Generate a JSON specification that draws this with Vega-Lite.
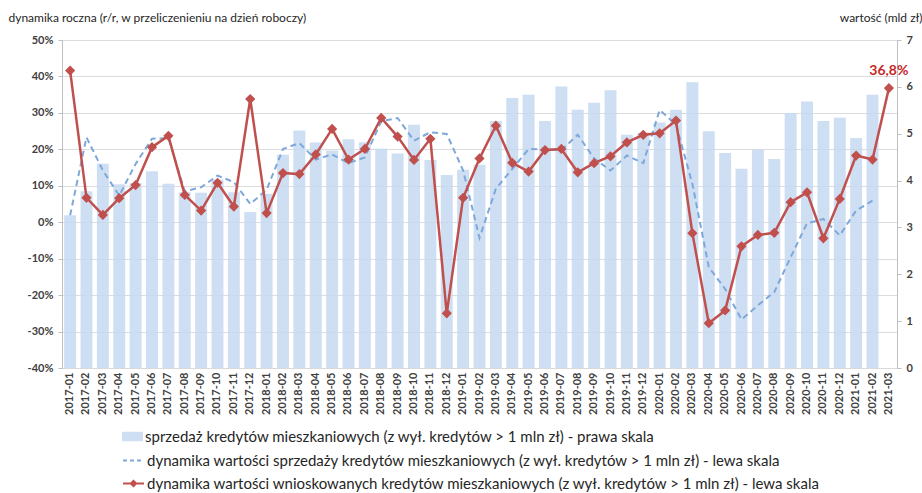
{
  "$schema": "https://vega.github.io/schema/vega-lite/v6.json",
  "width": 835,
  "height": 328,
  "autosize": {"type": "none"},
  "padding": {"left": 62, "top": 40, "right": 25, "bottom": 125},
  "background": "white",
  "config": {
    "view": {"stroke": null},
    "font": "Lato",
    "legend": {"labelFont": "Lato", "labelFontSize": 15, "labelColor": "#262626", "labelLimit": 1000, "padding": 0, "offset": 0, "labelOffset": 2},
    "axisLeft": {
      "values": [-40, -30, -20, -10, 0, 10, 20, 30, 40, 50],
      "labelOverlap": false,
      "gridColor": "#dcdcdc",
      "labelFont": "Lato",
      "labelFontSize": 11,
      "labelFontWeight": "bold",
      "labelColor": "#404040",
      "labelPadding": 5,
      "tickSize": 4,
      "tickColor": "#bfbfbf",
      "domainColor": "#bfbfbf"
    }
  },
  "data": {
    "values": [
      {"m": "2017-01", "sprzedaz": 3.26, "dyn_sprz": 1.9, "dyn_wn": 41.6},
      {"m": "2017-02", "sprzedaz": 3.77, "dyn_sprz": 23.3, "dyn_wn": 6.7},
      {"m": "2017-03", "sprzedaz": 4.36, "dyn_sprz": 14.2, "dyn_wn": 2.0},
      {"m": "2017-04", "sprzedaz": 3.92, "dyn_sprz": 7.3, "dyn_wn": 6.6},
      {"m": "2017-05", "sprzedaz": 3.95, "dyn_sprz": 16.0, "dyn_wn": 10.2},
      {"m": "2017-06", "sprzedaz": 4.20, "dyn_sprz": 22.9, "dyn_wn": 20.6},
      {"m": "2017-07", "sprzedaz": 3.93, "dyn_sprz": 23.1, "dyn_wn": 23.7},
      {"m": "2017-08", "sprzedaz": 3.75, "dyn_sprz": 8.5, "dyn_wn": 7.5},
      {"m": "2017-09", "sprzedaz": 3.74, "dyn_sprz": 9.6, "dyn_wn": 3.2},
      {"m": "2017-10", "sprzedaz": 4.02, "dyn_sprz": 12.8, "dyn_wn": 10.8},
      {"m": "2017-11", "sprzedaz": 3.75, "dyn_sprz": 11.0, "dyn_wn": 4.3},
      {"m": "2017-12", "sprzedaz": 3.33, "dyn_sprz": 5.0, "dyn_wn": 33.8},
      {"m": "2018-01", "sprzedaz": 3.72, "dyn_sprz": 8.9, "dyn_wn": 2.5},
      {"m": "2018-02", "sprzedaz": 4.55, "dyn_sprz": 20.1, "dyn_wn": 13.5},
      {"m": "2018-03", "sprzedaz": 5.07, "dyn_sprz": 21.7, "dyn_wn": 13.2},
      {"m": "2018-04", "sprzedaz": 4.81, "dyn_sprz": 17.2, "dyn_wn": 18.6},
      {"m": "2018-05", "sprzedaz": 4.64, "dyn_sprz": 18.6, "dyn_wn": 25.6},
      {"m": "2018-06", "sprzedaz": 4.88, "dyn_sprz": 16.2, "dyn_wn": 17.2},
      {"m": "2018-07", "sprzedaz": 4.82, "dyn_sprz": 17.8, "dyn_wn": 20.1},
      {"m": "2018-08", "sprzedaz": 4.68, "dyn_sprz": 27.7, "dyn_wn": 28.6},
      {"m": "2018-09", "sprzedaz": 4.58, "dyn_sprz": 28.6, "dyn_wn": 23.5},
      {"m": "2018-10", "sprzedaz": 5.19, "dyn_sprz": 22.4, "dyn_wn": 17.1},
      {"m": "2018-11", "sprzedaz": 4.44, "dyn_sprz": 24.7, "dyn_wn": 22.9},
      {"m": "2018-12", "sprzedaz": 4.12, "dyn_sprz": 24.2, "dyn_wn": -25.0},
      {"m": "2019-01", "sprzedaz": 4.23, "dyn_sprz": 14.2, "dyn_wn": 6.7},
      {"m": "2019-02", "sprzedaz": 4.34, "dyn_sprz": -4.3, "dyn_wn": 17.5},
      {"m": "2019-03", "sprzedaz": 5.27, "dyn_sprz": 9.2, "dyn_wn": 26.5},
      {"m": "2019-04", "sprzedaz": 5.76, "dyn_sprz": 14.6, "dyn_wn": 16.3},
      {"m": "2019-05", "sprzedaz": 5.83, "dyn_sprz": 20.1, "dyn_wn": 13.9},
      {"m": "2019-06", "sprzedaz": 5.27, "dyn_sprz": 19.9, "dyn_wn": 19.8},
      {"m": "2019-07", "sprzedaz": 6.01, "dyn_sprz": 19.8, "dyn_wn": 20.1},
      {"m": "2019-08", "sprzedaz": 5.51, "dyn_sprz": 24.0, "dyn_wn": 13.7},
      {"m": "2019-09", "sprzedaz": 5.66, "dyn_sprz": 17.5, "dyn_wn": 16.2},
      {"m": "2019-10", "sprzedaz": 5.93, "dyn_sprz": 14.2, "dyn_wn": 18.1},
      {"m": "2019-11", "sprzedaz": 4.98, "dyn_sprz": 18.3, "dyn_wn": 21.9},
      {"m": "2019-12", "sprzedaz": 5.02, "dyn_sprz": 16.2, "dyn_wn": 24.0},
      {"m": "2020-01", "sprzedaz": 5.24, "dyn_sprz": 30.8, "dyn_wn": 24.4},
      {"m": "2020-02", "sprzedaz": 5.51, "dyn_sprz": 26.8, "dyn_wn": 27.9},
      {"m": "2020-03", "sprzedaz": 6.10, "dyn_sprz": 10.5, "dyn_wn": -3.0},
      {"m": "2020-04", "sprzedaz": 5.05, "dyn_sprz": -12.3, "dyn_wn": -27.7},
      {"m": "2020-05", "sprzedaz": 4.59, "dyn_sprz": -18.3, "dyn_wn": -24.2},
      {"m": "2020-06", "sprzedaz": 4.25, "dyn_sprz": -26.7, "dyn_wn": -6.6},
      {"m": "2020-07", "sprzedaz": 4.66, "dyn_sprz": -22.8, "dyn_wn": -3.5},
      {"m": "2020-08", "sprzedaz": 4.46, "dyn_sprz": -19.2, "dyn_wn": -2.9},
      {"m": "2020-09", "sprzedaz": 5.44, "dyn_sprz": -9.6, "dyn_wn": 5.5},
      {"m": "2020-10", "sprzedaz": 5.69, "dyn_sprz": -0.3, "dyn_wn": 8.2},
      {"m": "2020-11", "sprzedaz": 5.27, "dyn_sprz": 0.9, "dyn_wn": -4.4},
      {"m": "2020-12", "sprzedaz": 5.34, "dyn_sprz": -3.6, "dyn_wn": 6.4},
      {"m": "2021-01", "sprzedaz": 4.91, "dyn_sprz": 3.2, "dyn_wn": 18.3},
      {"m": "2021-02", "sprzedaz": 5.83, "dyn_sprz": 5.9, "dyn_wn": 17.2},
      {"m": "2021-03", "sprzedaz": null, "dyn_sprz": null, "dyn_wn": 36.8}
    ]
  },
  "encoding": {
    "x": {
      "field": "m",
      "type": "ordinal",
      "sort": null,
      "scale": {"paddingInner": 0.27, "paddingOuter": 0.13},
      "axis": {
        "title": null,
        "labelAngle": -90,
        "labelFont": "Lato",
        "labelFontSize": 11,
        "labelFontWeight": "bold",
        "labelColor": "#404040",
        "labelPadding": 4,
        "ticks": false,
        "domain": true,
        "domainColor": "#d9d9d9",
        "grid": false
      }
    }
  },
  "layer": [
    {
      "mark": {"type": "bar", "fillOpacity": 0.85},
      "encoding": {
        "y": {
          "field": "sprzedaz",
          "type": "quantitative",
          "scale": {"domain": [0, 7], "nice": false},
          "axis": {
            "orient": "right",
            "values": [0, 1, 2, 3, 4, 5, 6, 7],
            "grid": false,
            "title": "wartość (mld zł)",
            "titleAngle": 0,
            "titleAlign": "right",
            "titleBaseline": "middle",
            "titleX": 25,
            "titleY": -23,
            "titleFont": "Lato",
            "titleFontSize": 12,
            "titleFontWeight": "normal",
            "titleColor": "#262626",
            "labelFont": "Lato",
            "labelFontSize": 11,
            "labelFontWeight": "bold",
            "labelColor": "#404040",
            "labelPadding": 5,
            "tickSize": 4,
            "tickColor": "#bfbfbf",
            "domainColor": "#bfbfbf"
          }
        },
        "fill": {
          "datum": "sprzedaż kredytów mieszkaniowych (z wył. kredytów > 1 mln zł) - prawa skala",
          "type": "nominal",
          "scale": {"range": ["#c5d9f1"]},
          "legend": {
            "orient": "none",
            "legendX": 60,
            "legendY": 386,
            "title": null,
            "symbolType": "M-1,-0.45H1V0.45H-1Z",
            "symbolSize": 441,
            "symbolStrokeWidth": 0,
            "symbolOpacity": 0.85
          }
        }
      }
    },
    {
      "encoding": {
        "y": {
          "type": "quantitative",
          "scale": {"domain": [-40, 50], "nice": false},
          "axis": {
            "orient": "left",
            "values": [-40, -30, -20, -10, 0, 10, 20, 30, 40, 50],
            "labelExpr": "datum.value + '%'",
            "grid": true,
            "title": "dynamika roczna (r/r, w przeliczenieniu na dzień roboczy)",
            "titleAngle": 0,
            "titleAlign": "left",
            "titleBaseline": "middle",
            "titleX": -54,
            "titleY": -23,
            "titleFont": "Lato",
            "titleFontSize": 12,
            "titleFontWeight": "normal",
            "titleColor": "#262626"
          }
        }
      },
      "layer": [
        {
          "mark": {"type": "rule", "stroke": "#ff2424", "strokeWidth": 3, "strokeDash": [12, 5]},
          "encoding": {
            "y": {"datum": 0, "type": "quantitative"}
          }
        },
        {
          "mark": {"type": "line", "strokeWidth": 2, "strokeDash": [6, 4]},
          "encoding": {
            "y": {"field": "dyn_sprz", "type": "quantitative"},
            "stroke": {
              "datum": "dynamika wartości sprzedaży kredytów mieszkaniowych (z wył. kredytów > 1 mln zł) - lewa skala",
              "type": "nominal",
              "scale": {"range": ["#7fa8da"]},
              "legend": {
                "orient": "none",
                "legendX": 60,
                "legendY": 409,
                "title": null,
                "symbolType": "M-1,0H1",
                "symbolSize": 441,
                "symbolDash": [4, 3],
                "symbolStrokeWidth": 2
              }
            }
          }
        },
        {
          "mark": {"type": "line", "strokeWidth": 2.5, "point": {"shape": "diamond", "filled": true, "size": 55, "fill": "#c0504d", "opacity": 1}},
          "encoding": {
            "y": {"field": "dyn_wn", "type": "quantitative"},
            "stroke": {
              "datum": "dynamika wartości wnioskowanych kredytów mieszkaniowych (z wył. kredytów > 1 mln zł) - lewa skala",
              "type": "nominal",
              "scale": {"range": ["#c0504d"]},
              "legend": {
                "orient": "none",
                "legendX": 60,
                "legendY": 432,
                "title": null,
                "symbolType": "M-1,0H1M-0.25,0L0,-0.25L0.25,0L0,0.25Z",
                "symbolSize": 441,
                "symbolFillColor": "#c0504d",
                "symbolStrokeWidth": 2
              }
            }
          }
        },
        {
          "transform": [{"filter": "datum.m === '2021-03'"}],
          "mark": {"type": "text", "dy": -17, "fontSize": 14, "fontWeight": "bold", "font": "Lato", "color": "#c62828"},
          "encoding": {
            "y": {"field": "dyn_wn", "type": "quantitative"},
            "text": {"value": "36,8%"}
          }
        }
      ],
      "resolve": {"scale": {"stroke": "independent"}}
    }
  ],
  "resolve": {"scale": {"y": "independent"}}
}
